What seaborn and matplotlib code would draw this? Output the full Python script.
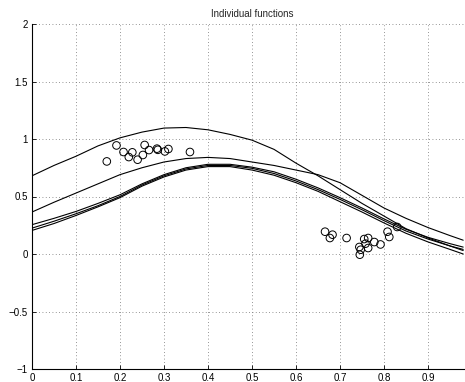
import matplotlib
matplotlib.use("Agg")
import matplotlib.pyplot as plt
import pandas as pd
import seaborn as sns

x_grid = [0.00, 0.05, 0.10, 0.15, 0.20, 0.25, 0.30, 0.35, 0.40, 0.45, 0.50,
          0.55, 0.60, 0.65, 0.70, 0.75, 0.80, 0.85, 0.90, 0.95, 0.98]

curve_a = [0.68, 0.77, 0.85, 0.94, 1.01, 1.06, 1.095, 1.10, 1.08, 1.04, 0.99,
           0.91, 0.79, 0.68, 0.56, 0.44, 0.33, 0.22, 0.14, 0.07, 0.04]
curve_b = [0.365, 0.45, 0.53, 0.61, 0.69, 0.75, 0.80, 0.83, 0.84, 0.83, 0.80,
           0.77, 0.73, 0.69, 0.62, 0.51, 0.40, 0.31, 0.23, 0.16, 0.12]
curve_c = [0.255, 0.31, 0.37, 0.44, 0.515, 0.61, 0.69, 0.75, 0.78, 0.78, 0.755,
           0.715, 0.65, 0.575, 0.49, 0.40, 0.305, 0.215, 0.145, 0.09, 0.06]
curve_d = [0.225, 0.285, 0.35, 0.42, 0.50, 0.60, 0.68, 0.74, 0.77, 0.77, 0.745,
           0.70, 0.635, 0.56, 0.475, 0.385, 0.29, 0.20, 0.13, 0.07, 0.03]
curve_e = [0.205, 0.265, 0.335, 0.41, 0.49, 0.59, 0.67, 0.73, 0.76, 0.76, 0.73,
           0.685, 0.62, 0.545, 0.455, 0.365, 0.27, 0.18, 0.105, 0.04, 0.0]

# observed data points
pts_x = [0.170, 0.192, 0.208, 0.220, 0.228, 0.240, 0.252, 0.256, 0.266, 0.284,
         0.286, 0.302, 0.310, 0.359,
         0.666, 0.683, 0.677, 0.715, 0.744, 0.747, 0.745, 0.755, 0.758, 0.764,
         0.764, 0.778, 0.792, 0.808, 0.812, 0.830]
pts_y = [0.805, 0.944, 0.887, 0.843, 0.884, 0.820, 0.861, 0.948, 0.904, 0.916,
         0.906, 0.892, 0.913, 0.887,
         0.194, 0.168, 0.139, 0.139, 0.061, 0.037, -0.006, 0.130, 0.090, 0.139,
         0.052, 0.104, 0.083, 0.194, 0.148, 0.235]

x_ticks = [0, 0.1, 0.2, 0.3, 0.4, 0.5, 0.6, 0.7, 0.8, 0.9]
x_labels = ["0", "0.1", "0.2", "0.3", "0.4", "0.5", "0.6", "0.7", "0.8", "0.9"]
y_ticks = [-1, -0.5, 0, 0.5, 1, 1.5, 2]
y_labels = ["\u22121", "\u22120.5", "0", "0.5", "1", "1.5", "2"]

sns.set_style("white")
plt.rcParams["font.family"] = ["Liberation Sans", "DejaVu Sans"]

curves = {"a": curve_a, "b": curve_b, "c": curve_c, "d": curve_d, "e": curve_e}
df = pd.concat(
    [pd.DataFrame({"x": x_grid, "y": v, "curve": k}) for k, v in curves.items()],
    ignore_index=True,
)

fig = plt.figure(figsize=(4.65, 3.82), dpi=100)
ax = fig.add_axes([32 / 465, 13 / 382, 440 / 465, 345 / 382])

sns.lineplot(data=df, x="x", y="y", units="curve", estimator=None,
             color="black", linewidth=0.8, ax=ax)
sns.scatterplot(x=pts_x, y=pts_y, marker="o", s=30, facecolor="none",
                edgecolor="black", linewidth=0.7, ax=ax, zorder=3)

ax.set_xlim(0, 1)
ax.set_ylim(-1, 2)
ax.set_xticks(x_ticks)
ax.set_xticklabels(x_labels)
ax.set_yticks(y_ticks)
ax.set_yticklabels(y_labels)
ax.set_xlabel("")
ax.set_ylabel("")
ax.set_title("Individual functions", fontsize=7, pad=5)

ax.grid(True, linestyle=(0, (1, 3)), color="0.45", linewidth=0.6)
ax.tick_params(direction="in", length=3, width=0.6, labelsize=7,
               colors="black", pad=3, left=True, bottom=True)
for side in ["top", "right"]:
    ax.spines[side].set_visible(False)
for side in ["left", "bottom"]:
    ax.spines[side].set_color("black")
    ax.spines[side].set_linewidth(0.8)

fig.savefig("out.png", dpi=100)
